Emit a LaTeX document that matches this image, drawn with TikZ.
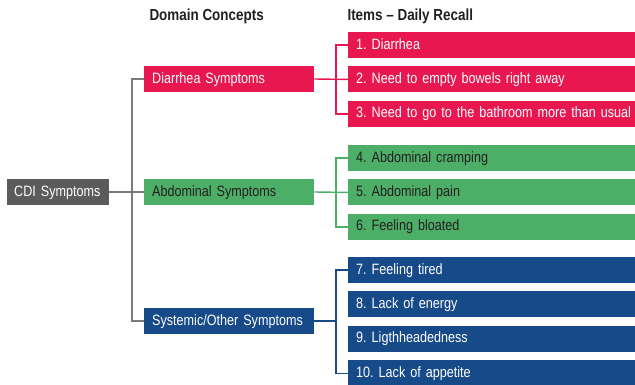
\documentclass[tikz,border=0pt]{standalone}
\usepackage{fontspec}
\setmainfont{Liberation Sans}[FakeStretch=0.84]
\usetikzlibrary{positioning}
\frenchspacing
\definecolor{cdigrey}{HTML}{5B5B5B}
\definecolor{diared}{HTML}{E8174F}
\definecolor{abdgreen}{HTML}{4DAE68}
\definecolor{sysblue}{HTML}{174A88}
\definecolor{linegrey}{HTML}{7A7A7A}
\definecolor{textdark}{HTML}{231F20}
\tikzset{
  box/.style={minimum height=26pt, inner xsep=8pt, inner ysep=0pt, anchor=west,
    text height=11pt, text depth=3pt, align=left, font=\fontsize{15}{17}\selectfont},
  domainbox/.style={box, text width=154pt},
  itembox/.style={box, text width=284pt},
  head/.style={anchor=west, text=textdark, font=\fontsize{16}{18}\selectfont\bfseries},
  link/.style={line width=1.4pt},
}

\begin{document}
\begin{tikzpicture}[x=1pt, y=-1pt]
 \useasboundingbox (0,0) rectangle (635,384);
 \node [head] (hdom) at (146,16) {Domain Concepts};
 \node [head] (hitem) at (344,16) {Items -- Daily Recall};
 \node [box, fill=cdigrey, text=white, inner xsep=7pt, text width=88pt] (cdi) at (7,192) {CDI Symptoms};
 \node [domainbox, fill=diared, text=white] (dia) at (144,79) {Diarrhea Symptoms};
 \node [domainbox, fill=abdgreen, text=textdark] (abd) at (144,192) {Abdominal Symptoms};
 \node [domainbox, fill=sysblue, text=white] (sys) at (144,321) {Systemic/Other Symptoms};
 \node [itembox, fill=diared, text=white] (i1) at (348,45) {1. Diarrhea};
 \node [itembox, fill=diared, text=white, below=8pt of i1] (i2) {2. Need to empty bowels right away};
 \node [itembox, fill=diared, text=white, below=8pt of i2] (i3) {3. Need to go to the bathroom more than usual};
 \node [itembox, fill=abdgreen, text=textdark] (i4) at (348,158) {4. Abdominal cramping};
 \node [itembox, fill=abdgreen, text=textdark, below=8pt of i4] (i5) {5. Abdominal pain};
 \node [itembox, fill=abdgreen, text=textdark, below=8pt of i5] (i6) {6. Feeling bloated};
 \node [itembox, fill=sysblue, text=white] (i7) at (348,270) {7. Feeling tired};
 \node [itembox, fill=sysblue, text=white, below=8pt of i7] (i8) {8. Lack of energy};
 \node [itembox, fill=sysblue, text=white, below=8pt of i8] (i9) {9. Ligthheadedness};
 \node [itembox, fill=sysblue, text=white, below=8pt of i9] (i10) {10. Lack of appetite};
 \draw [link, linegrey] (cdi.east) -- (abd.west);
 \draw [link, linegrey] (dia.west) -- ++(-12,0) |- (sys.west);
 \draw [link, diared] (dia.east) -- (i2.west);
 \draw [link, diared] (i1.west) -- ++(-12,0) |- (i3.west);
 \draw [link, abdgreen] (abd.east) -- (i5.west);
 \draw [link, abdgreen] (i4.west) -- ++(-12,0) |- (i6.west);
 \draw [link, sysblue] (sys.east) -- ++(22,0);
 \draw [link, sysblue] (i7.west) -- ++(-12,0) |- (i10.west);
\end{tikzpicture}
\end{document}
